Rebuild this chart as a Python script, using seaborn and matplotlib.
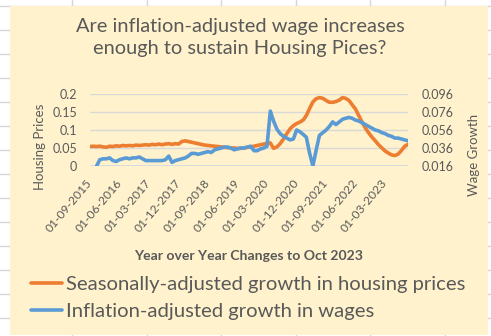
import numpy as np
import pandas as pd
import matplotlib
matplotlib.use("Agg")
import matplotlib.pyplot as plt
import seaborn as sns
from matplotlib.lines import Line2D
from matplotlib.patches import Rectangle

# ---------------- data ----------------
start_month = "2015-09-01"
n_months = 98
tick_step = 9

housing = [
    0.054, 0.055, 0.054, 0.055, 0.053, 0.052, 0.055, 0.054, 0.056, 0.055,
    0.057, 0.056, 0.057, 0.056, 0.058, 0.057, 0.058, 0.059, 0.058, 0.060,
    0.059, 0.061, 0.059, 0.061, 0.062, 0.060, 0.062, 0.061, 0.068, 0.070,
    0.068, 0.066, 0.064, 0.062, 0.060, 0.058, 0.057, 0.056, 0.055, 0.054,
    0.053, 0.052, 0.051, 0.050, 0.050, 0.049, 0.049, 0.050, 0.052, 0.053,
    0.055, 0.057, 0.059, 0.061, 0.063, 0.064, 0.049, 0.053, 0.062, 0.075,
    0.090, 0.103, 0.112, 0.118, 0.122, 0.128, 0.140, 0.160, 0.178, 0.187,
    0.190, 0.188, 0.182, 0.177, 0.177, 0.179, 0.183, 0.190, 0.188, 0.182,
    0.170, 0.158, 0.140, 0.122, 0.105, 0.092, 0.080, 0.070, 0.059, 0.050,
    0.042, 0.036, 0.031, 0.029, 0.033, 0.043, 0.055, 0.060,
]

wages = [
    np.nan, np.nan, 0.016, 0.023, 0.024, 0.024, 0.025, 0.022, 0.021, 0.023,
    0.024, 0.025, 0.024, 0.025, 0.025, 0.026, 0.024, 0.022, 0.022, 0.022,
    0.022, 0.022, 0.022, 0.023, 0.027, 0.020, 0.022, 0.023, 0.024, 0.025,
    0.027, 0.030, 0.030, 0.029, 0.030, 0.031, 0.032, 0.031, 0.034, 0.035,
    0.036, 0.037, 0.037, 0.036, 0.034, 0.035, 0.036, 0.036, 0.037, 0.038,
    0.033, 0.033, 0.035, 0.036, 0.038, 0.077, 0.066, 0.057, 0.052, 0.049,
    0.047, 0.045, 0.046, 0.056, 0.054, 0.051, 0.048, 0.030, 0.016, 0.034,
    0.050, 0.053, 0.056, 0.060, 0.065, 0.062, 0.065, 0.068, 0.069, 0.070,
    0.069, 0.067, 0.066, 0.064, 0.062, 0.060, 0.058, 0.056, 0.055, 0.053,
    0.052, 0.050, 0.049, 0.047, 0.047, 0.046, 0.045, 0.044,
]

left_ticks = [0, 0.05, 0.1, 0.15, 0.2]
left_labels = ["0", "0.05", "0.1", "0.15", "0.2"]
right_ticks = [0.016, 0.036, 0.056, 0.076, 0.096]
right_labels = ["0.016", "0.036", "0.056", "0.076", "0.096"]

title_text = "Are inflation-adjusted wage increases\nenough to sustain Housing Pices?"
xlabel_text = "Year over Year Changes to Oct 2023"
ylabel_left = "Housing Prices"
ylabel_right = "Wage Growth"
series_names = ["Seasonally-adjusted growth in housing prices",
                "Inflation-adjusted growth in wages"]

# ---------------- style ----------------
sns.set_theme(style="white")
plt.rcParams["font.family"] = ["Lato", "DejaVu Sans"]

ORANGE = "#ED7D31"
BLUE = "#5B9BD5"
TXT = "#595959"
CHART_BG = "#FFF2CC"
SHEET_LINE = "#d6d6d6"
GRID = "#d9d9d9"

W, H = 491, 336
fig = plt.figure(figsize=(W / 100, H / 100), dpi=100)
fig.patch.set_facecolor("white")


def fx(px):
    return px / W


def fy(py):
    return 1 - py / H


# spreadsheet cell lines behind the chart
for r in range(0, 15):
    yy = 6 + 24 * r
    fig.add_artist(Line2D([0, 1], [fy(yy), fy(yy)], transform=fig.transFigure,
                          color=SHEET_LINE, lw=1, zorder=0))
for c in range(0, 7):
    xx = 72 + 74.6 * c
    fig.add_artist(Line2D([fx(xx), fx(xx)], [0, 1], transform=fig.transFigure,
                          color=SHEET_LINE, lw=1, zorder=0))

# chart area
fig.add_artist(Rectangle((fx(9.5), fy(335)), fx(488) - fx(9.5), fy(6) - fy(335),
                         transform=fig.transFigure, facecolor=CHART_BG,
                         edgecolor="none", zorder=1))

dates = pd.date_range(start_month, periods=n_months, freq="MS")
df = pd.DataFrame({"date": dates, "housing": housing, "wages": wages})

ax = fig.add_axes([fx(90), fy(166), fx(408) - fx(90), fy(94) - fy(166)])
ax.set_zorder(3)
ax.set_facecolor("none")
sns.lineplot(data=df, x="date", y="housing", ax=ax, color=ORANGE, linewidth=2.6)

ax2 = ax.twinx()
ax2.set_facecolor("none")
sns.lineplot(data=df, x="date", y="wages", ax=ax2, color=BLUE, linewidth=2.6)

ax.set_xlim(dates[0], dates[-1])
ax.set_ylim(0, 0.2)
ax2.set_ylim(0.016, 0.096)
ax.set_yticks(left_ticks)
ax.set_yticklabels(left_labels)
ax2.set_yticks(right_ticks)
ax2.set_yticklabels(right_labels)

ticks = dates[::tick_step]
ax.set_xticks(ticks)
ax.set_xticklabels([d.strftime("%d-%m-%Y") for d in ticks], rotation=50,
                   ha="right", va="center", rotation_mode="anchor")

ax.grid(axis="y", color=GRID, lw=1)
ax.grid(axis="x", visible=False)
ax2.grid(False)
ax.set_axisbelow(True)

for a in (ax, ax2):
    for s in ("top", "left", "right", "bottom"):
        a.spines[s].set_visible(False)
    a.set_xlabel("")
    a.set_ylabel("")
ax.axhline(0, color="#cfd8e3", lw=1.2, zorder=0.5)

ax.tick_params(axis="y", length=0, pad=9.4, labelsize=9, labelcolor=TXT)
ax.tick_params(axis="x", length=0, pad=10.5, labelsize=8.7, labelcolor=TXT)
ax2.tick_params(axis="y", length=0, pad=10, labelsize=9, labelcolor=TXT)

# texts
fig.text(fx(240), fy(37.5), title_text, ha="center", va="center", fontsize=14.4,
         color=TXT, linespacing=1.4)
fig.text(fx(249), fy(256), xlabel_text, ha="center", va="center", fontsize=10.1,
         fontweight="bold", color=TXT)
fig.text(fx(40), fy(147), ylabel_left, ha="center", va="center", rotation=90,
         fontsize=9.5, color=TXT)
fig.text(fx(474), fy(155), ylabel_right, ha="center", va="center", rotation=90,
         fontsize=9.5, color=TXT)

handles = [Line2D([], [], color=ORANGE, lw=2.6), Line2D([], [], color=BLUE, lw=2.6)]
fig.legend(handles, series_names, loc="center left",
           bbox_to_anchor=(fx(31), fy(298)), frameon=False, fontsize=14.6,
           labelcolor=TXT, handlelength=1.55, handletextpad=0.2,
           labelspacing=0.5, borderaxespad=0, borderpad=0)

fig.savefig("out.png", dpi=100, facecolor=fig.get_facecolor())
